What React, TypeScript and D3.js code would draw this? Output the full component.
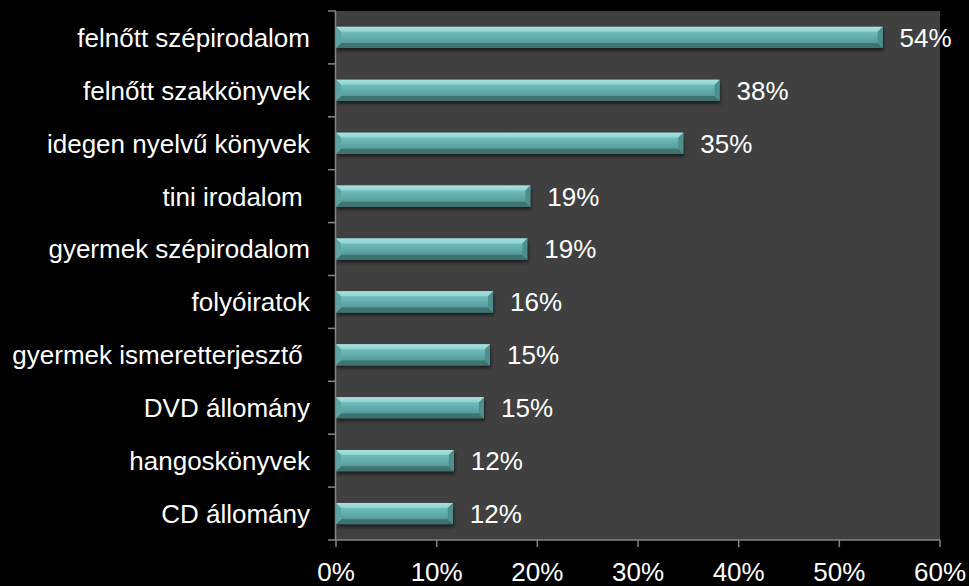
import React from "react";
import * as d3 from "d3";

const categories = [
  "felnőtt szépirodalom",
  "felnőtt szakkönyvek",
  "idegen nyelvű könyvek",
  "tini irodalom ",
  "gyermek szépirodalom",
  "folyóiratok",
  "gyermek ismeretterjesztő ",
  "DVD állomány",
  "hangoskönyvek",
  "CD állomány",
];
const values = [54.3, 38.1, 34.5, 19.3, 19.0, 15.6, 15.3, 14.7, 11.7, 11.6];
const valueLabels = ["54%", "38%", "35%", "19%", "19%", "16%", "15%", "15%", "12%", "12%"];
const xTicks = [0, 10, 20, 30, 40, 50, 60];

const W = 969;
const H = 586;
const left = 336;
const right = 940;
const top = 11;
const bottom = 540;

export default function App() {
  const x = d3.scaleLinear().domain([0, 60]).range([left, right]);
  const y = d3.scaleBand<string>().domain(categories).range([top, bottom]).paddingInner(0.6).paddingOuter(0.3);
  const yOuter = d3.scaleBand<string>().domain(categories).range([top, bottom]);
  const bh = y.bandwidth();
  const b = 5;
  const font = "Arial, 'Liberation Sans', sans-serif";
  const fs = 26;

  return (
    <svg width={W} height={H} style={{ position: "absolute", left: 0, top: 0, display: "block" }}>
      <defs>
        <linearGradient id="face" x1="0" y1="0" x2="0" y2="1">
          <stop offset="0" stopColor="#7fcbc8" />
          <stop offset="0.5" stopColor="#62adab" />
          <stop offset="1" stopColor="#4a8a88" />
        </linearGradient>
        <linearGradient id="topbev" x1="0" y1="0" x2="0" y2="1">
          <stop offset="0" stopColor="#a8e2df" />
          <stop offset="1" stopColor="#8ed2cf" />
        </linearGradient>
        <filter id="shadow" x="-5%" y="-50%" width="110%" height="200%">
          <feGaussianBlur stdDeviation="1.5" />
        </filter>
      </defs>
      <rect x={0} y={0} width={W} height={H} fill="#000" />
      <rect x={left} y={top} width={right - left} height={bottom - top} fill="#404040" />
      {categories.map((c, i) => {
        const x0 = x(0);
        const x1 = x(values[i]);
        const y0 = y(c)!;
        const y1 = y0 + bh;
        const pts = (arr: number[][]) => arr.map((p) => p.join(",")).join(" ");
        return (
          <g key={c}>
            <rect x={x0 + 1} y={y0 + 3} width={x1 - x0} height={bh} fill="#151515" opacity={0.8} filter="url(#shadow)" />
            <rect x={x0} y={y0} width={x1 - x0} height={bh} fill="url(#face)" />
            <polygon points={pts([[x0, y0], [x1, y0], [x1 - b, y0 + b], [x0 + b, y0 + b]])} fill="url(#topbev)" />
            <polygon points={pts([[x0, y1], [x1, y1], [x1 - b, y1 - b], [x0 + b, y1 - b]])} fill="#3f7372" />
            <polygon points={pts([[x0, y0], [x0 + b, y0 + b], [x0 + b, y1 - b], [x0, y1]])} fill="#5aa6a4" />
            <polygon points={pts([[x1, y0], [x1 - b, y0 + b], [x1 - b, y1 - b], [x1, y1]])} fill="#4d8f8d" />
            <text
              x={x1 + 17}
              y={y0 + bh / 2}
              dy="0.36em"
              fill="#fff"
              fontSize={fs}
              fontFamily={font}
            >
              {valueLabels[i]}
            </text>
            <text
              x={310}
              y={y0 + bh / 2}
              dy="0.36em"
              fill="#fff"
              fontSize={fs}
              fontFamily={font}
              textAnchor="end"
              style={{ whiteSpace: "pre" }}
            >
              {c}
            </text>
          </g>
        );
      })}
      {/* y axis */}
      <line x1={left - 0.5} x2={left - 0.5} y1={top} y2={bottom} stroke="#868686" strokeWidth={1.5} />
      {categories.concat(["__end"]).map((c, i) => {
        const yy = i < categories.length ? yOuter(c)! : bottom;
        return <line key={"yt" + i} x1={left - 8} x2={left} y1={yy} y2={yy} stroke="#868686" strokeWidth={1.5} />;
      })}
      {/* x axis */}
      <line x1={left} x2={right} y1={bottom} y2={bottom} stroke="#868686" strokeWidth={1.5} />
      {xTicks.map((t) => (
        <g key={"xt" + t}>
          <line x1={x(t)} x2={x(t)} y1={bottom} y2={bottom + 7} stroke="#868686" strokeWidth={1.5} />
          <text x={x(t)} y={581} fill="#fff" fontSize={fs} fontFamily={font} textAnchor="middle">
            {t + "%"}
          </text>
        </g>
      ))}
    </svg>
  );
}
